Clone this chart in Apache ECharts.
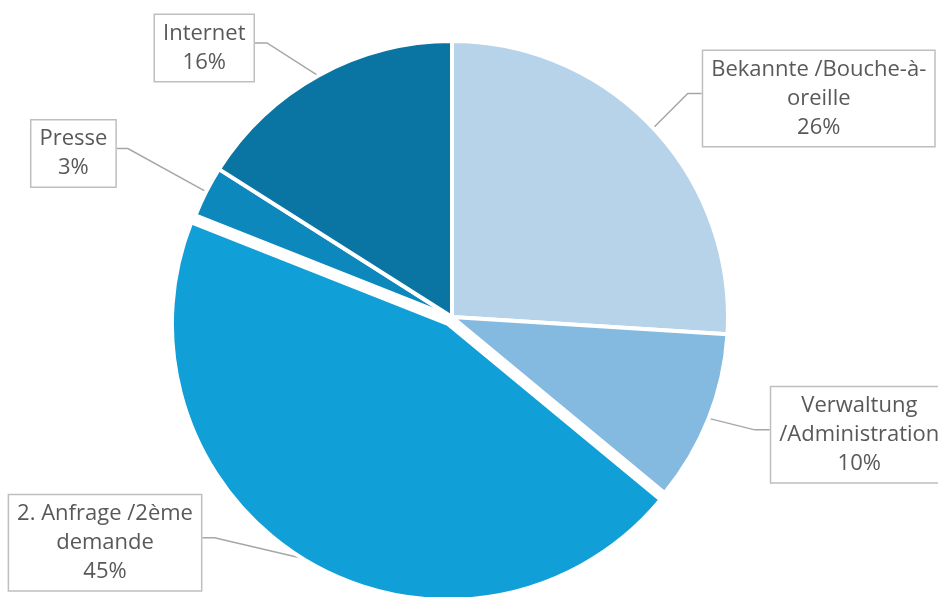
<!DOCTYPE html>
<html><head><meta charset="utf-8">
<script src="https://cdn.jsdelivr.net/npm/echarts@6/dist/echarts.min.js"></script>
<style>html,body{margin:0;padding:0;background:#fff}#c{width:938px;height:597px}</style>
</head><body><div id="c"></div>
<script>
const categories = ['Bekannte /Bouche-à-\noreille', 'Verwaltung\n/Administration', '2. Anfrage /2ème\ndemande', 'Presse', 'Internet'];
const shares = [26, 10, 45, 3, 16];
const colors = ['#B6D3EA', '#84B9E0', '#109FD6', '#0C88BC', '#0A75A2'];
const exploded = [false, false, true, false, false];
// leader line styling per slice: elbow dx, elbow dy, horizontal run
const leaderStyle = [[36,-36,14],[48,12,15],[-94,-22,12],[-80,-44,11],[-53,-34,12]];

const CX = 452, CY = 317, RADIUS = 276, BORDER = 4, EXPLODE = 8;
const total = shares.reduce((a,b)=>a+b,0);
function midAngle(i){
  let before = 0;
  for(let k=0;k<i;k++) before += shares[k];
  return (before + shares[i]/2) / total * 2 * Math.PI;
}
function anchorPoint(i){
  const mid = midAngle(i);
  const rr = RADIUS - BORDER/2 + (exploded[i] ? EXPLODE : 0);
  return [CX + rr*Math.sin(mid), CY - rr*Math.cos(mid)];
}

const labelStyle = {show:true, position:'outside', formatter:'{b}\n{c}%', fontFamily:'Open Sans', fontSize:22, lineHeight:29, color:'#595959', backgroundColor:'#fff', borderColor:'#BFBFBF', borderWidth:1.5, padding:[4,8], align:'center'};
const lineStyle = {show:true, length:20, length2:12, lineStyle:{color:'#A6A6A6', width:1.5}};
function labelLayout(p){
  const i = p.dataIndex;
  const p0 = anchorPoint(i);
  const s = leaderStyle[i];
  const p1 = [p0[0]+s[0], p0[1]+s[1]];
  const dir = s[0] >= 0 ? 1 : -1;
  const p2 = [p1[0]+dir*s[2], p1[1]];
  const w = p.labelRect.width;
  return { x: p2[0] + dir*w/2, y: p2[1] + 5, align:'center', verticalAlign:'middle', hideOverlap:false, labelLinePoints:[p0,p1,p2] };
}
// one pie layer: draws only the slices for which visible(i) is true
function pieLayer(visible, center){
  return {
    type:'pie', center:center, radius:RADIUS, startAngle:90, clockwise:true,
    emphasis:{disabled:true}, silent:true,
    itemStyle:{borderColor:'#fff', borderWidth:BORDER},
    label:labelStyle, labelLine:lineStyle, labelLayout:labelLayout,
    data: categories.map((n,i)=> visible(i)
      ? {name:n, value:shares[i], itemStyle:{color:colors[i]}}
      : {name:n, value:shares[i], itemStyle:{color:'transparent', borderWidth:0}, label:{show:false}, labelLine:{show:false}})
  };
}
const series = [pieLayer(i => !exploded[i], [CX, CY])];
exploded.forEach((e, j) => {
  if(!e) return;
  const m = midAngle(j);
  series.push(pieLayer(i => i === j, [CX + EXPLODE*Math.sin(m), CY - EXPLODE*Math.cos(m)]));
});

const chart = echarts.init(document.getElementById('c'), null, {renderer:'canvas'});
chart.setOption({ animation:false, series: series });
</script></body></html>
